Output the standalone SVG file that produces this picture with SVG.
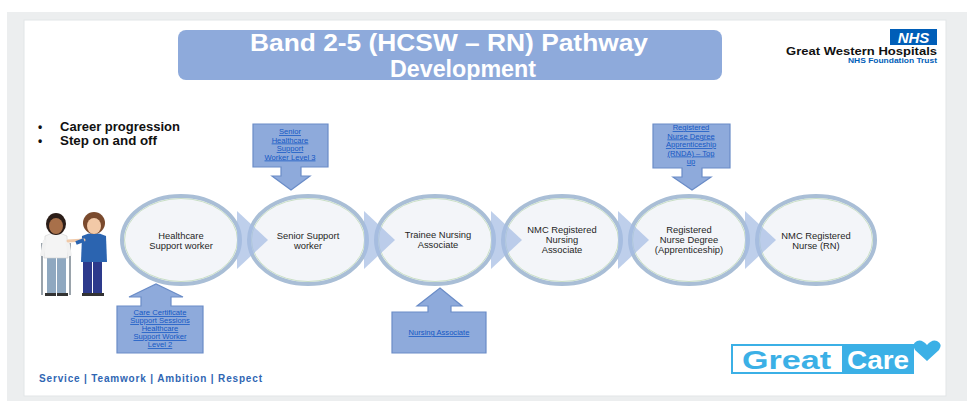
<svg xmlns="http://www.w3.org/2000/svg" width="967" height="401" viewBox="0 0 967 401">
  <style>
    .title { font-family: "Liberation Sans", Arial, sans-serif; font-weight: bold; font-size: 24px; fill: #ffffff; }
    .stage { fill: #f3f5f9; stroke: #a9bed6; stroke-width: 4; }
    .stage-in { fill: none; stroke: #c9dfc6; stroke-width: 1; }
    .label { font-family: "Liberation Sans", Arial, sans-serif; font-size: 9.4px; fill: #262626; text-anchor: middle; }
    .callout { fill: #8eaadb; stroke: #6a8cc7; stroke-width: 1.2; }
    .link { font-family: "Liberation Sans", Arial, sans-serif; font-size: 7.6px; fill: #1457c4; text-anchor: middle; text-decoration: underline; }
    .chev { fill: #a5bce3; opacity: 0.72; }
    .bullet { font-family: "Liberation Sans", Arial, sans-serif; font-weight: bold; font-size: 12px; fill: #111111; }
    .values { font-family: "Liberation Sans", Arial, sans-serif; font-weight: bold; font-size: 10px; fill: #2f66b3; }
    .gc { font-family: "Liberation Sans", Arial, sans-serif; font-weight: bold; font-size: 26px; }
  </style>

  <!-- page background and slide -->
  <rect x="0" y="0" width="967" height="401" fill="#ffffff"/>
  <rect x="7" y="12" width="960" height="389" fill="#eceeef"/>
  <rect x="24" y="20" width="922" height="376" fill="#ffffff" stroke="#e2e5e7" stroke-width="1"/>

  <!-- title banner -->
  <g id="title">
    <rect x="178" y="30" width="544" height="50" rx="8" fill="#8eaadb"/>
    <text class="title" x="449" y="51" text-anchor="middle" textLength="398" lengthAdjust="spacingAndGlyphs">Band 2-5 (HCSW – RN) Pathway</text>
    <text class="title" x="463" y="77" text-anchor="middle" textLength="146" lengthAdjust="spacingAndGlyphs">Development</text>
  </g>

  <!-- trust logo -->
  <g id="nhs-logo">
    <rect x="890" y="29" width="47" height="16" fill="#005eb8"/>
    <text x="913.5" y="43" text-anchor="middle" font-family="Liberation Sans, Arial, sans-serif" font-weight="bold" font-style="italic" font-size="15" fill="#ffffff">NHS</text>
    <text x="937" y="55" text-anchor="end" font-family="Liberation Sans, Arial, sans-serif" font-weight="bold" font-size="11.5" fill="#111111" textLength="151" lengthAdjust="spacingAndGlyphs">Great Western Hospitals</text>
    <text x="937" y="63" text-anchor="end" font-family="Liberation Sans, Arial, sans-serif" font-weight="bold" font-size="7" fill="#005eb8" textLength="89" lengthAdjust="spacingAndGlyphs">NHS Foundation Trust</text>
  </g>

  <!-- bullet list -->
  <g id="bullets">
    <text class="bullet" x="38" y="131">•</text>
    <text class="bullet" x="60" y="131" textLength="120" lengthAdjust="spacingAndGlyphs">Career progression</text>
    <text class="bullet" x="38" y="145">•</text>
    <text class="bullet" x="60" y="145" textLength="97" lengthAdjust="spacingAndGlyphs">Step on and off</text>
  </g>

  <!-- two people: patient with crutches and nurse -->
  <g id="people">
    <!-- patient -->
    <line x1="42" y1="243" x2="42" y2="295" stroke="#9aa3ab" stroke-width="2"/>
    <line x1="70" y1="243" x2="70" y2="295" stroke="#9aa3ab" stroke-width="2"/>
    <rect x="47" y="256" width="9" height="38" fill="#8fa8c0"/>
    <rect x="57" y="256" width="9" height="38" fill="#8fa8c0"/>
    <path d="M45,236 Q56,230 67,236 L68,258 L44,258 Z" fill="#f4f4f4" stroke="#d0d0d0" stroke-width="0.6"/>
    <line x1="45" y1="240" x2="42" y2="256" stroke="#f1f1f1" stroke-width="4"/>
    <line x1="67" y1="240" x2="70" y2="256" stroke="#f1f1f1" stroke-width="4"/>
    <ellipse cx="56" cy="224" rx="10" ry="11" fill="#2b1d18"/>
    <ellipse cx="56" cy="226" rx="7" ry="8" fill="#a8704a"/>
    <rect x="45" y="293" width="11" height="3" fill="#333333"/>
    <rect x="57" y="293" width="11" height="3" fill="#333333"/>
    <!-- nurse -->
    <rect x="83" y="259" width="9" height="35" fill="#2d3a8c"/>
    <rect x="93" y="259" width="9" height="35" fill="#2d3a8c"/>
    <path d="M82,236 Q94,230 106,236 L107,262 L81,262 Z" fill="#2b64b0"/>
    <path d="M84,240 L68,241" stroke="#f0c9a8" stroke-width="3" stroke-linecap="round"/>
    <path d="M84,240 L76,243" stroke="#2b64b0" stroke-width="4"/>
    <ellipse cx="94" cy="223" rx="11" ry="11" fill="#7a4a2d"/>
    <ellipse cx="94" cy="226" rx="7" ry="8" fill="#f2c9a7"/>
    <rect x="82" y="293" width="11" height="3" fill="#333333"/>
    <rect x="93" y="293" width="11" height="3" fill="#333333"/>
  </g>

  <!-- pathway stages -->
  <g id="stage-hcsw">
    <ellipse class="stage" cx="181" cy="240" rx="59" ry="44"/>
    <ellipse class="stage-in" cx="181" cy="240" rx="56.5" ry="41.5"/>
    <text class="label" x="181" y="239">Healthcare</text>
    <text class="label" x="181" y="249">Support worker</text>
  </g>
  <g id="stage-senior">
    <ellipse class="stage" cx="308" cy="240" rx="59" ry="44"/>
    <ellipse class="stage-in" cx="308" cy="240" rx="56.5" ry="41.5"/>
    <text class="label" x="308" y="239">Senior  Support</text>
    <text class="label" x="308" y="249">worker</text>
  </g>
  <g id="stage-tna">
    <ellipse class="stage" cx="435" cy="240" rx="59" ry="44"/>
    <ellipse class="stage-in" cx="435" cy="240" rx="56.5" ry="41.5"/>
    <text class="label" x="438" y="238">Trainee Nursing</text>
    <text class="label" x="438" y="248">Associate</text>
  </g>
  <g id="stage-nmc-na">
    <ellipse class="stage" cx="562" cy="240" rx="59" ry="44"/>
    <ellipse class="stage-in" cx="562" cy="240" rx="56.5" ry="41.5"/>
    <text class="label" x="562" y="233">NMC Registered</text>
    <text class="label" x="562" y="243">Nursing</text>
    <text class="label" x="562" y="253">Associate</text>
  </g>
  <g id="stage-rnda">
    <ellipse class="stage" cx="689" cy="240" rx="59" ry="44"/>
    <ellipse class="stage-in" cx="689" cy="240" rx="56.5" ry="41.5"/>
    <text class="label" x="689" y="233">Registered</text>
    <text class="label" x="689" y="243">Nurse Degree</text>
    <text class="label" x="689" y="253">(Apprenticeship)</text>
  </g>
  <g id="stage-rn">
    <ellipse class="stage" cx="816" cy="240" rx="59" ry="44"/>
    <ellipse class="stage-in" cx="816" cy="240" rx="56.5" ry="41.5"/>
    <text class="label" x="816" y="239">NMC Registered</text>
    <text class="label" x="816" y="249">Nurse (RN)</text>
  </g>

  <!-- progression chevrons between stages -->
  <g id="connectors">
    <polygon class="chev" points="237,211 268,240 237,269"/>
    <polygon class="chev" points="364,211 395,240 364,269"/>
    <polygon class="chev" points="491,211 522,240 491,269"/>
    <polygon class="chev" points="618,211 649,240 618,269"/>
    <polygon class="chev" points="745,211 776,240 745,269"/>
  </g>

  <!-- entry routes -->
  <g id="entry-shsw3">
    <path class="callout" d="M253,124 H328 V167 H301 V176 H310 L291,190 L272,176 H281 V167 H253 Z"/>
    <text class="link" x="290" y="134">Senior</text>
    <text class="link" x="290" y="142.5">Healthcare</text>
    <text class="link" x="290" y="151">Support</text>
    <text class="link" x="290" y="159.5">Worker Level 3</text>
  </g>
  <g id="entry-rnda">
    <path class="callout" d="M653,124 H730 V168 H702 V177 H711 L692,190 L673,177 H682 V168 H653 Z"/>
    <text class="link" x="691" y="130">Registered</text>
    <text class="link" x="691" y="138.5">Nurse Degree</text>
    <text class="link" x="691" y="147">Apprenticeship</text>
    <text class="link" x="691" y="155.5">(RNDA) – Top</text>
    <text class="link" x="691" y="164">up</text>
  </g>
  <g id="entry-care-cert">
    <path class="callout" d="M117,306 H141 V297 H129 L156,284 L183,297 H171 V306 H203 V353 H117 Z"/>
    <text class="link" x="160" y="315">Care Certificate</text>
    <text class="link" x="160" y="323">Support Sessions</text>
    <text class="link" x="160" y="331">Healthcare</text>
    <text class="link" x="160" y="339">Support Worker</text>
    <text class="link" x="160" y="347">Level 2</text>
  </g>
  <g id="entry-na">
    <path class="callout" d="M392,312 H428 V306 H417 L440,288 L462,306 H451 V312 H486 V353 H392 Z"/>
    <text class="link" x="439" y="335">Nursing Associate</text>
  </g>

  <!-- footer values -->
  <g id="values">
    <text class="values" x="39" y="382" textLength="223" lengthAdjust="spacing">Service  |  Teamwork  |  Ambition  |  Respect</text>
  </g>

  <!-- Great Care mark -->
  <g id="great-care">
    <rect x="732" y="345" width="181" height="28" fill="#ffffff" stroke="#3bb0e6" stroke-width="2"/>
    <rect x="842" y="345" width="71" height="28" fill="#3bb0e6"/>
    <text class="gc" x="742" y="369" fill="#3bb0e6" textLength="89" lengthAdjust="spacingAndGlyphs">Great</text>
    <text class="gc" x="847" y="369" fill="#ffffff" textLength="62" lengthAdjust="spacingAndGlyphs">Care</text>
    <path d="M927,361 L915,350 Q911,344 917,341 Q922,339 927,345 Q932,339 937,341 Q943,344 939,350 Z" fill="#3bb0e6"/>
  </g>
</svg>
